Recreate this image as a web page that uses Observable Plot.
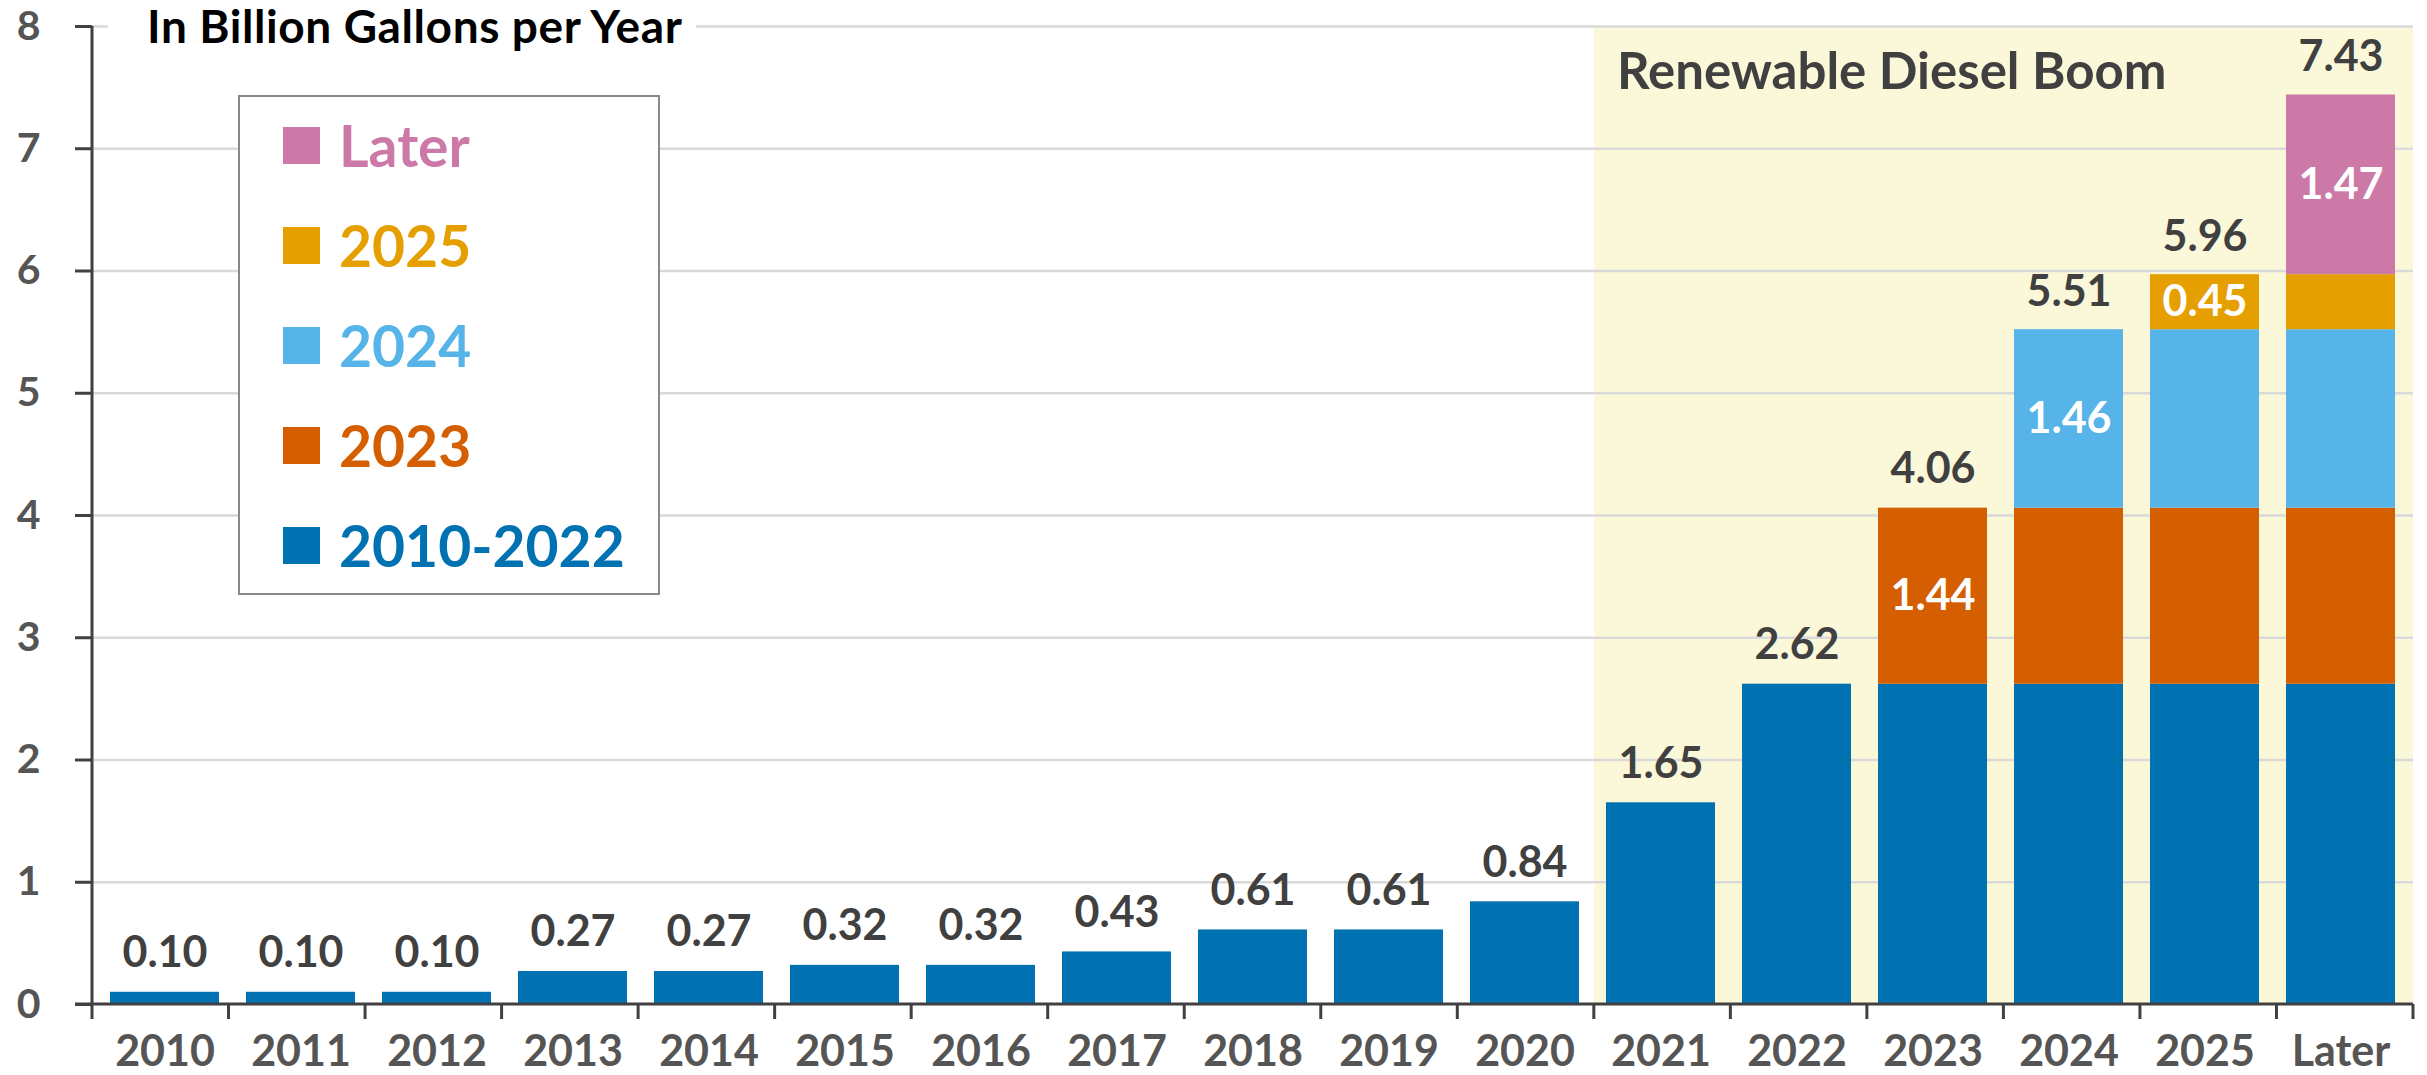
<!DOCTYPE html>
<html>
<head>
<meta charset="utf-8">
<script src="https://cdn.jsdelivr.net/npm/d3@7"></script>
<script src="https://cdn.jsdelivr.net/npm/@observablehq/plot@0.6"></script>
<style>
  html, body { margin: 0; padding: 0; background: #fff; }
  #wrap { position: relative; width: 2427px; height: 1075px; overflow: hidden;
          font-family: Lato, "Open Sans", sans-serif; font-weight: 700; }
  #wrap svg { position: absolute; left: 0; top: 0; }
  .ytitle { position: absolute; left: 108px; top: 4px; padding: 0 14px 0 39px; background: #fff;
            font-size: 46px; line-height: 44px; letter-spacing: 0.6px; color: #000; white-space: nowrap; }
  .legend { position: absolute; left: 238px; top: 95px; width: 418px; height: 496px;
            border: 2px solid #888; background: #fff; }
  .item { position: absolute; left: 43px; height: 60px; display: flex; align-items: center; }
  .sw { width: 37px; height: 37px; margin-right: 19px; }
  .lab { font-size: 57px; line-height: 1.2; white-space: nowrap; }
</style>
</head>
<body>
<div id="wrap"></div>
<script>
// ---- data ----
const categories = ["2010","2011","2012","2013","2014","2015","2016","2017","2018","2019","2020","2021","2022","2023","2024","2025","Later"];
const seriesNames = ["2010-2022","2023","2024","2025","Later"];
const seriesColors = ["#0072B2","#D55E00","#56B4E9","#E69F00","#CC79A7"];
const values2010_2022 = [0.10,0.10,0.10,0.27,0.27,0.32,0.32,0.43,0.61,0.61,0.84,1.65,2.62,2.62,2.62,2.62,2.62];
const values2023      = [0,0,0,0,0,0,0,0,0,0,0,0,0,1.44,1.44,1.44,1.44];
const values2024      = [0,0,0,0,0,0,0,0,0,0,0,0,0,0,1.46,1.46,1.46];
const values2025      = [0,0,0,0,0,0,0,0,0,0,0,0,0,0,0,0.45,0.45];
const valuesLater     = [0,0,0,0,0,0,0,0,0,0,0,0,0,0,0,0,1.47];
const totals = [0.10,0.10,0.10,0.27,0.27,0.32,0.32,0.43,0.61,0.61,0.84,1.65,2.62,4.06,5.51,5.96,7.43];
const totalLabels = ["0.10","0.10","0.10","0.27","0.27","0.32","0.32","0.43","0.61","0.61","0.84","1.65","2.62","4.06","5.51","5.96","7.43"];
const insideLabelCats = ["2023","2024","2025","Later"];
const insideLabelText = ["1.44","1.46","0.45","1.47"];
const highlightCats = ["2021","2022","2023","2024","2025","Later"];
const highlightLabel = "Renewable Diesel Boom";
const yTicks = [0,1,2,3,4,5,6,7,8];
const yTickLabels = ["0","1","2","3","4","5","6","7","8"];
const yTitle = "In Billion Gallons per Year";

// ---- build table ----
const seriesValues = [values2010_2022, values2023, values2024, values2025, valuesLater];
const rows = [];
seriesNames.forEach((s, i) => {
  categories.forEach((c, j) => {
    const v = seriesValues[i][j];
    if (v > 0) {
      const k = insideLabelCats.indexOf(c);
      const label = (k >= 0 && seriesNames[k + 1] === s) ? insideLabelText[k] : null;
      rows.push({category: c, series: s, value: v, label});
    }
  });
});

const W = 2427, H = 1075;
const yMax = yTicks[yTicks.length - 1];

function bandGeom(scales, dims) {
  const {width, marginLeft, marginRight} = dims;
  const n = categories.length;
  const step = (width - marginLeft - marginRight) / n;
  return {step, left: marginLeft, right: width - marginRight};
}
function yPos(scales, dims, v) {
  if (scales && typeof scales.y === "function") return scales.y(v);
  const {height, marginTop, marginBottom} = dims;
  return marginTop + (1 - v / yMax) * (height - marginTop - marginBottom);
}

const background = (index, scales, values, dims) => {
  const {step, left, right} = bandGeom(scales, dims);
  const x0 = left + step * categories.indexOf(highlightCats[0]);
  const yTop = yPos(scales, dims, yMax), yBot = yPos(scales, dims, 0);
  const g = d3.create("svg:g");
  g.append("rect").attr("x", x0).attr("y", yTop)
    .attr("width", right - x0).attr("height", yBot - yTop).attr("fill", "#FBF8DA");
  return g.node();
};

const axisLines = (index, scales, values, dims) => {
  const {step, left, right} = bandGeom(scales, dims);
  const y0 = yPos(scales, dims, 0), yTop = yPos(scales, dims, yMax);
  const g = d3.create("svg:g").attr("stroke", "#404040").attr("stroke-width", 3).attr("fill", "none");
  g.append("line").attr("x1", left).attr("x2", left).attr("y1", yTop).attr("y2", y0);
  g.append("line").attr("x1", left - 17).attr("x2", right).attr("y1", y0).attr("y2", y0);
  for (let k = 0; k <= categories.length; k++) {
    const xx = left + k * step;
    g.append("line").attr("x1", xx).attr("x2", xx).attr("y1", y0).attr("y2", y0 + 15);
  }
  return g.node();
};

const chart = Plot.plot({
  width: W,
  height: H,
  marginLeft: 92,
  marginRight: 14,
  marginTop: 26,
  marginBottom: 71,
  style: {fontFamily: "Lato, 'Open Sans', sans-serif", fontWeight: 700, background: "transparent"},
  x: {domain: categories, paddingInner: 0.2, paddingOuter: 0.1},
  y: {domain: [0, yMax]},
  color: {domain: seriesNames, range: seriesColors},
  marks: [
    background,
    Plot.gridY(yTicks.slice(1), {stroke: "#d9d9d9", strokeOpacity: 1, strokeWidth: 2.5}),
    Plot.barY(rows, {x: "category", y: "value", fill: "series"}),
    axisLines,
    Plot.axisY(yTicks, {anchor: "left", tickSize: 17, strokeWidth: 3, color: "#404040", tickFormat: () => "", label: null}),
    Plot.axisY(yTicks, {anchor: "left", tickSize: 0, tickPadding: 52, color: "#555", fontSize: 41, fontWeight: 700,
      tickFormat: d => yTickLabels[yTicks.indexOf(d)], label: null}),
    Plot.axisX(categories, {anchor: "bottom", tickSize: 0, tickPadding: 31, color: "#555", fontSize: 43, fontWeight: 700, label: null}),
    Plot.text(categories, {x: categories, y: totals, text: totalLabels, lineAnchor: "bottom", dy: -25,
      fontSize: 43, fontWeight: 700, fill: "#404040"}),
    Plot.text(rows, Plot.stackY({x: "category", y: "value", z: "series", text: "label",
      fill: "white", fontSize: 43, fontWeight: 700, lineAnchor: "middle"})),
    Plot.text([highlightLabel], {x: () => highlightCats[0], y: () => yMax, text: d => d,
      textAnchor: "start", lineAnchor: "bottom", dx: -44, dy: 62, fontSize: 51, fontWeight: 700, fill: "#404040"})
  ]
});

const wrap = document.getElementById("wrap");
wrap.appendChild(chart);

// y-axis title
const t = document.createElement("div");
t.className = "ytitle";
t.textContent = yTitle;
wrap.appendChild(t);

// legend
const lg = document.createElement("div");
lg.className = "legend";
const order = seriesNames.slice().reverse();
order.forEach((s, i) => {
  const color = seriesColors[seriesNames.indexOf(s)];
  const it = document.createElement("div");
  it.className = "item";
  it.style.top = (18 + i * 100) + "px";
  const sw = document.createElement("div");
  sw.className = "sw";
  sw.style.background = color;
  const lab = document.createElement("span");
  lab.className = "lab";
  lab.style.color = color;
  lab.textContent = s;
  it.appendChild(sw);
  it.appendChild(lab);
  lg.appendChild(it);
});
wrap.appendChild(lg);
</script>
</body>
</html>
